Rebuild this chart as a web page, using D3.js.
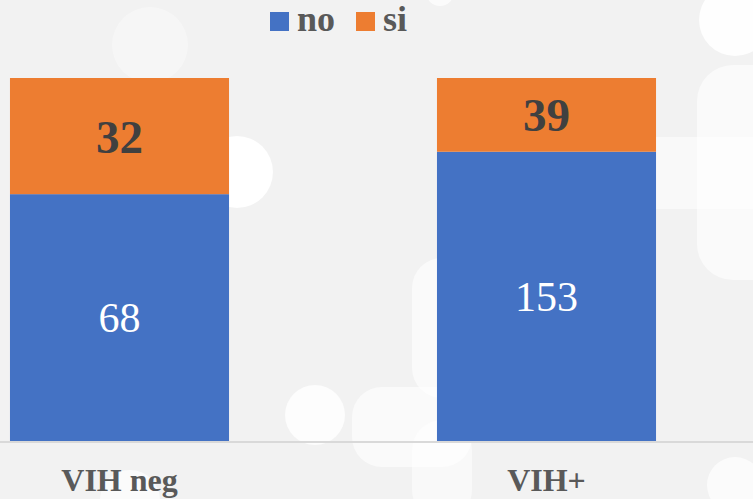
<!DOCTYPE html>
<html>
<head>
<meta charset="utf-8">
<script src="https://cdn.jsdelivr.net/npm/d3@7"></script>
<style>
  html, body { margin: 0; padding: 0; background: #f2f2f2; }
  svg { display: block; }
</style>
</head>
<body>
<svg id="chart"></svg>
<script>
// data
let categories = ["VIH neg", "VIH+"]
let seriesNames = ["no", "si"]
let noValues = [68, 153]
let siValues = [32, 39]
let seriesColors = ["#4472c4", "#ed7d31"]

let width = 753, height = 499
let serif = '"Liberation Serif", "Times New Roman", serif'

let svg = d3.select('#chart')
    .attr('width', width)
    .attr('height', height)

svg.append('rect').attr('width', width).attr('height', height).attr('fill', '#f2f2f2')

// faint background decoration (slide template)
let deco = svg.append('g').attr('fill', '#ffffff')
deco.append('circle').attr('cx', 237).attr('cy', 172).attr('r', 36).attr('opacity', 0.95)
deco.append('circle').attr('cx', 440).attr('cy', -8).attr('r', 14).attr('opacity', 0.7)
deco.append('circle').attr('cx', 735).attr('cy', 20).attr('r', 36).attr('opacity', 0.9)
deco.append('rect').attr('x', 697).attr('y', 65).attr('width', 90).attr('height', 215).attr('rx', 36).attr('opacity', 0.6)
deco.append('rect').attr('x', 656).attr('y', 137).attr('width', 100).attr('height', 72).attr('opacity', 0.5)
deco.append('circle').attr('cx', 315).attr('cy', 415).attr('r', 30).attr('opacity', 0.8)
deco.append('rect').attr('x', 352).attr('y', 387).attr('width', 120).attr('height', 80).attr('rx', 30).attr('opacity', 0.6)
deco.append('rect').attr('x', 412).attr('y', 258).attr('width', 60).attr('height', 140).attr('rx', 30).attr('opacity', 0.6)
deco.append('rect').attr('x', 412).attr('y', 420).attr('width', 60).attr('height', 100).attr('rx', 30).attr('opacity', 0.5)
deco.append('circle').attr('cx', 130).attr('cy', 500).attr('r', 30).attr('opacity', 0.7)
deco.append('circle').attr('cx', 735).attr('cy', 485).attr('r', 28).attr('opacity', 0.7)
deco.append('circle').attr('cx', 150).attr('cy', 45).attr('r', 38).attr('opacity', 0.35)

// 100% stacked
let table = categories.map(function (c, i) {
    let total = noValues[i] + siValues[i]
    return { cat: c, no: noValues[i] / total, si: siValues[i] / total, noRaw: noValues[i], siRaw: siValues[i] }
})

let stacked = d3.stack().keys(seriesNames)(table)

let x = d3.scaleBand().domain(categories).range([-94, 760]).paddingInner(0.487).paddingOuter(0.2435)
let y = d3.scaleLinear().domain([0, 1]).range([441, 78])

let layers = svg.selectAll('.layer')
    .data(stacked)
    .enter().append('g')
    .attr('fill', function (d, i) { return seriesColors[i] })

layers.selectAll('rect')
    .data(function (d) { return d })
    .enter().append('rect')
    .attr('x', function (d) { return x(d.data.cat) })
    .attr('y', function (d) { return y(d[1]) })
    .attr('width', x.bandwidth())
    .attr('height', function (d) { return y(d[0]) - y(d[1]) })

// data labels
layers.each(function (layer, li) {
    d3.select(this).selectAll('text')
        .data(layer)
        .enter().append('text')
        .attr('x', function (d) { return x(d.data.cat) + x.bandwidth() / 2 })
        .attr('y', function (d) { return (y(d[0]) + y(d[1])) / 2 })
        .attr('dy', '0.35em')
        .attr('text-anchor', 'middle')
        .style('font-family', serif)
        .style('font-size', li == 0 ? '42px' : '47px')
        .style('font-weight', li == 0 ? 'normal' : 'bold')
        .style('fill', li == 0 ? '#ffffff' : '#404040')
        .text(function (d) { return li == 0 ? d.data.noRaw : d.data.siRaw })
})

// x axis
let xAxis = svg.append('g')
    .attr('transform', 'translate(0,441.5)')
    .call(d3.axisBottom(x).tickSize(0).tickPadding(27))

xAxis.select('.domain').attr('d', 'M0,0.5H' + width).attr('stroke', '#d9d9d9').attr('stroke-width', 2)
xAxis.selectAll('text')
    .style('font-family', serif)
    .style('font-size', '32px')
    .style('font-weight', 'bold')
    .style('fill', '#595959')
    .attr('dy', '0.71em')

// legend
let legendX = [270, 356]
let legend = svg.selectAll('.legend')
    .data(seriesNames)
    .enter().append('g')
    .attr('transform', function (d, i) { return `translate(${legendX[i]}, 12)` })

legend.append('rect')
    .attr('width', 19).attr('height', 19)
    .attr('fill', function (d, i) { return seriesColors[i] })

legend.append('text')
    .attr('x', 27).attr('y', 19)
    .style('font-family', serif)
    .style('font-size', '36px')
    .style('font-weight', 'bold')
    .style('fill', '#595959')
    .text(function (d) { return d })
</script>
</body>
</html>
